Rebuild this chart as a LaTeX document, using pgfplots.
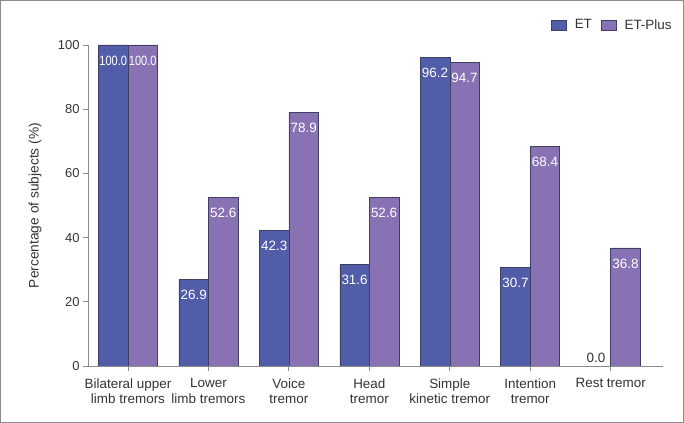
\documentclass[border=0pt]{standalone}
\usepackage{fontspec}
\setmainfont{Liberation Sans}
\newfontfamily\narrowfont[FakeStretch=0.82]{Liberation Sans}
\usepackage{pgfplots}
\pgfplotsset{compat=1.18}

\definecolor{etblue}{HTML}{525DA9}
\definecolor{etplus}{HTML}{8972B4}
\definecolor{barline}{HTML}{3F3F63}
\definecolor{axisgray}{HTML}{8C8C8C}
\definecolor{txt}{HTML}{333333}

\begin{document}
\begin{tikzpicture}
\path[use as bounding box] (0,0) rectangle (684bp,423bp);
\draw[axisgray, line width=1.4bp] (0.7bp,0.7bp) rectangle (683.3bp,422.3bp);
\begin{axis}[
    at={(88bp,57bp)}, anchor=south west,
    scale only axis,
    width=575bp, height=321bp,
    xmin=-0.497, xmax=6.65,
    ymin=0, ymax=100,
    ytick={0,20,...,100},
    xtick={0,...,6},
    xticklabels={Bilateral upper\\limb tremors, Lower\\limb tremors, Voice\\tremor, Head\\tremor, Simple\\kinetic tremor, Intention\\tremor, Rest tremor},
    axis x line*=bottom, axis y line*=left,
    axis line style={axisgray, line width=0.8bp, -},
    tick style={axisgray, line width=0.8bp},
    tick align=outside,
    major tick length=5bp,
    /pgf/number format/assume math mode=true,
    yticklabel style={font=\fontsize{13}{15}\selectfont, text=txt},
    xticklabel style={font=\fontsize{13.5}{15.5}\selectfont, text=txt, align=center, yshift=-4bp},
    ylabel={Percentage of subjects (\%)},
    every axis y label/.style={at={(axis description cs:-0.092,0.5)}, rotate=90, anchor=center, font=\fontsize{13.8}{16}\selectfont, text=txt},
    ybar, bar width=29.5bp,
    point meta=explicit symbolic,
    nodes near coords={\pgfplotspointmeta},
    every node near coord/.append style={font=\fontsize{13.5}{15}\selectfont, text=white, anchor=north, inner sep=0pt, yshift=-10.5bp},
    legend style={at={(axis description cs:1.024,1.062)}, anchor=east, draw=none, fill=none, legend columns=-1, font=\fontsize{13.5}{15}\selectfont, text=txt,
      /tikz/every even column/.append style={column sep=7bp}},
    legend image code/.code={\draw[#1, line width=0.6bp] (0bp,-5bp) rectangle (15bp,5bp); \path (21bp,0bp);},
]
\addplot[fill=etblue, draw=barline, line width=0.6bp, bar shift=-14.75bp]
  coordinates {(0,100) [{\narrowfont 100.0}] (1,26.9) [26.9] (2,42.3) [42.3]
               (3,31.6) [31.6] (4,96.2) [96.2] (5,30.7) [30.7]};
\addplot[fill=etplus, draw=barline, line width=0.6bp, bar shift=14.75bp]
  coordinates {(0,100) [{\narrowfont 100.0}] (1,52.6) [52.6] (2,78.9) [78.9]
               (3,52.6) [52.6] (4,94.7) [94.7] (5,68.4) [68.4] (6,36.8) [36.8]};
\addplot[draw=none, fill=none, bar shift=-14.75bp, forget plot,
  every node near coord/.append style={text=txt, anchor=south, yshift=13.5bp}]
  coordinates {(6,0) [0.0]};
\legend{ET, ET-Plus}
\end{axis}
\end{tikzpicture}
\end{document}
